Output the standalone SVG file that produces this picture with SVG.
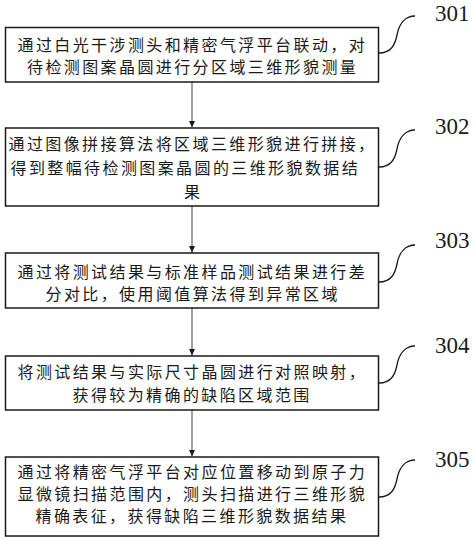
<svg xmlns="http://www.w3.org/2000/svg" width="474" height="540" viewBox="0 0 474 540">
<style>
.box{fill:#fff;stroke:#1a1a1a;stroke-width:1.5}
.t{font-family:"Noto Sans CJK SC","Noto Sans",sans-serif;font-size:16px;letter-spacing:2.4px;fill:#1a1a1a}
.lbl{font-family:"Liberation Serif",serif;font-size:23px;fill:#1a1a1a}
.conn{fill:none;stroke:#555;stroke-width:1.1}
.lead{fill:none;stroke:#1a1a1a;stroke-width:1.3}
</style>
<defs>
<marker id="ah" markerWidth="8" markerHeight="8" refX="7" refY="4" orient="auto" markerUnits="userSpaceOnUse">
<path d="M0,0.8 L7,4 L0,7.2 Z" fill="#1a1a1a"/>
</marker>
</defs>
<g id="connectors">
<line class="conn" x1="192" y1="82" x2="192" y2="127.5" marker-end="url(#ah)"/>
<line class="conn" x1="192" y1="206" x2="192" y2="252.5" marker-end="url(#ah)"/>
<line class="conn" x1="192" y1="308" x2="192" y2="355.5" marker-end="url(#ah)"/>
<line class="conn" x1="192" y1="410" x2="192" y2="456.5" marker-end="url(#ah)"/>
</g>
<g id="n301">
<rect class="box" x="5.5" y="27.5" width="373" height="54.5"/>
<text class="t" x="17.5" y="51">通过白光干涉测头和精密气浮平台联动，对</text>
<text class="t" x="27" y="73">待检测图案晶圆进行分区域三维形貌测量</text>
<path class="lead" d="M379,53 c12,0 16,-8 18,-18 c2,-11 8,-19 18,-19"/>
<text class="lbl" x="435" y="21">301</text>
</g>
<g id="n302">
<rect class="box" x="5.5" y="128" width="373" height="78"/>
<text class="t" x="8.5" y="150">通过图像拼接算法将区域三维形貌进行拼接，</text>
<text class="t" x="10.5" y="174">得到整幅待检测图案晶圆的三维形貌数据结</text>
<text class="t" x="184" y="198">果</text>
<path class="lead" d="M379,167 c12,0 16,-8 18,-18 c2,-11 8,-19 18,-19"/>
<text class="lbl" x="435" y="134">302</text>
</g>
<g id="n303">
<rect class="box" x="5.5" y="253" width="373" height="55"/>
<text class="t" x="17.5" y="278">通过将测试结果与标准样品测试结果进行差</text>
<text class="t" x="45.5" y="300">分对比，使用阈值算法得到异常区域</text>
<path class="lead" d="M379,282 c12,0 16,-8 18,-18 c2,-11 8,-19 18,-19"/>
<text class="lbl" x="435" y="248">303</text>
</g>
<g id="n304">
<rect class="box" x="5.5" y="356" width="373" height="54"/>
<text class="t" x="17.5" y="378">将测试结果与实际尺寸晶圆进行对照映射，</text>
<text class="t" x="72.5" y="401">获得较为精确的缺陷区域范围</text>
<path class="lead" d="M379,383 c12,0 16,-8 18,-18 c2,-11 8,-19 18,-19"/>
<text class="lbl" x="435" y="353">304</text>
</g>
<g id="n305">
<rect class="box" x="5.5" y="457" width="373" height="79"/>
<text class="t" x="17.5" y="478">通过将精密气浮平台对应位置移动到原子力</text>
<text class="t" x="17.5" y="500">显微镜扫描范围内，测头扫描进行三维形貌</text>
<text class="t" x="35.5" y="522">精确表征，获得缺陷三维形貌数据结果</text>
<path class="lead" d="M379,497 c12,0 16,-8 18,-18 c2,-11 8,-19 18,-19"/>
<text class="lbl" x="435" y="467">305</text>
</g>
</svg>
